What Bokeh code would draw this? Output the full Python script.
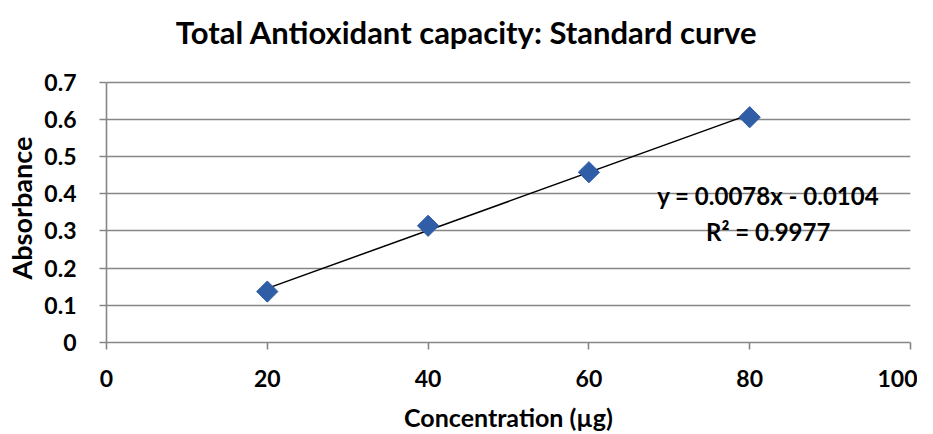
import math
from bokeh.plotting import figure
from bokeh.models import Range1d, FixedTicker, Label, Title
from bokeh.embed import file_html
from bokeh.resources import INLINE

# Data
concentration = [20, 40, 60, 80]
absorbance = [0.137, 0.314, 0.458, 0.606]
trend_slope = 0.0078
trend_intercept = -0.0104
title_text = "Total Antioxidant capacity: Standard curve"
equation_text = "y = 0.0078x - 0.0104"
r2_text = "R² = 0.9977"
x_ticks = [0, 20, 40, 60, 80, 100]
y_ticks = [0, 0.1, 0.2, 0.3, 0.4, 0.5, 0.6, 0.7]
y_tick_labels = {0: "0", 0.1: "0.1", 0.2: "0.2", 0.3: "0.3", 0.4: "0.4",
                 0.5: "0.5", 0.6: "0.6", 0.7: "0.7"}

FONT = "Lato"
GRAY = "#868686"

# y range extends above 0.7 to leave room for the title inside the canvas;
# the axis itself is bounded to 0..0.7
p = figure(width=917, height=434, output_backend="svg", toolbar_location=None,
           x_range=Range1d(0, 100), y_range=Range1d(0, 0.8985),
           min_border_left=105, min_border_right=7, min_border_top=8, min_border_bottom=91)

p.outline_line_color = None
p.background_fill_color = "white"
p.border_fill_color = "white"

p.xgrid.grid_line_color = None
p.ygrid.grid_line_color = GRAY
p.ygrid.grid_line_width = 1.6
p.ygrid.ticker = FixedTicker(ticks=y_ticks)

p.xaxis.ticker = FixedTicker(ticks=x_ticks)
p.yaxis.ticker = FixedTicker(ticks=y_ticks)
p.yaxis.bounds = (min(y_ticks), max(y_ticks))
p.yaxis.major_label_overrides = y_tick_labels

for ax in (p.xaxis, p.yaxis):
    ax.axis_line_color = GRAY
    ax.axis_line_width = 1.6
    ax.major_tick_line_color = GRAY
    ax.major_tick_line_width = 1.6
    ax.major_tick_out = 7
    ax.major_tick_in = 0
    ax.minor_tick_line_color = None
    ax.major_label_text_font = FONT
    ax.major_label_text_font_size = "23px"
    ax.major_label_text_font_style = "bold"
    ax.major_label_text_color = "#000000"
    ax.axis_label_text_font = FONT
    ax.axis_label_text_font_style = "bold"
    ax.axis_label_text_color = "#000000"

p.xaxis.axis_label = "Concentration (µg)"
p.xaxis.axis_label_text_font_size = "25px"
p.xaxis.major_label_standoff = 20
p.yaxis.major_label_standoff = 23
p.xaxis.axis_label_standoff = 12

# Y-axis label as a side title, so that it is centred on the 0..0.7 axis
y_label = Title(text="Absorbance", align="left", offset=63, vertical_align="middle",
                standoff=6, text_font=FONT, text_font_size="27px",
                text_font_style="bold", text_color="#000000")
p.add_layout(y_label, "left")

# Chart title (placed above the 0.7 gridline)
p.add_layout(Label(x=44.8, y=0.834, text=title_text, text_align="center",
                   text_baseline="middle", text_font=FONT, text_font_size="31px",
                   text_font_style="bold", text_color="#000000"))

# Trendline
x0, x1 = min(concentration), max(concentration)
p.line([x0, x1], [trend_slope * x0 + trend_intercept, trend_slope * x1 + trend_intercept],
       line_color="black", line_width=1.5)

# Points (diamonds = squares rotated 45 degrees)
p.scatter(concentration, absorbance, marker="square", size=15, angle=math.pi / 4,
          fill_color="#2F5DA6", line_color="#2F5DA6")

p.add_layout(Label(x=82.3, y=0.396, text=equation_text, text_align="center",
                   text_baseline="middle", text_font=FONT, text_font_size="24px",
                   text_font_style="bold", text_color="#000000"))
p.add_layout(Label(x=82.3, y=0.299, text=r2_text, text_align="center",
                   text_baseline="middle", text_font=FONT, text_font_size="24px",
                   text_font_style="bold", text_color="#000000"))

open("out.html", "w").write(file_html(p, INLINE))
